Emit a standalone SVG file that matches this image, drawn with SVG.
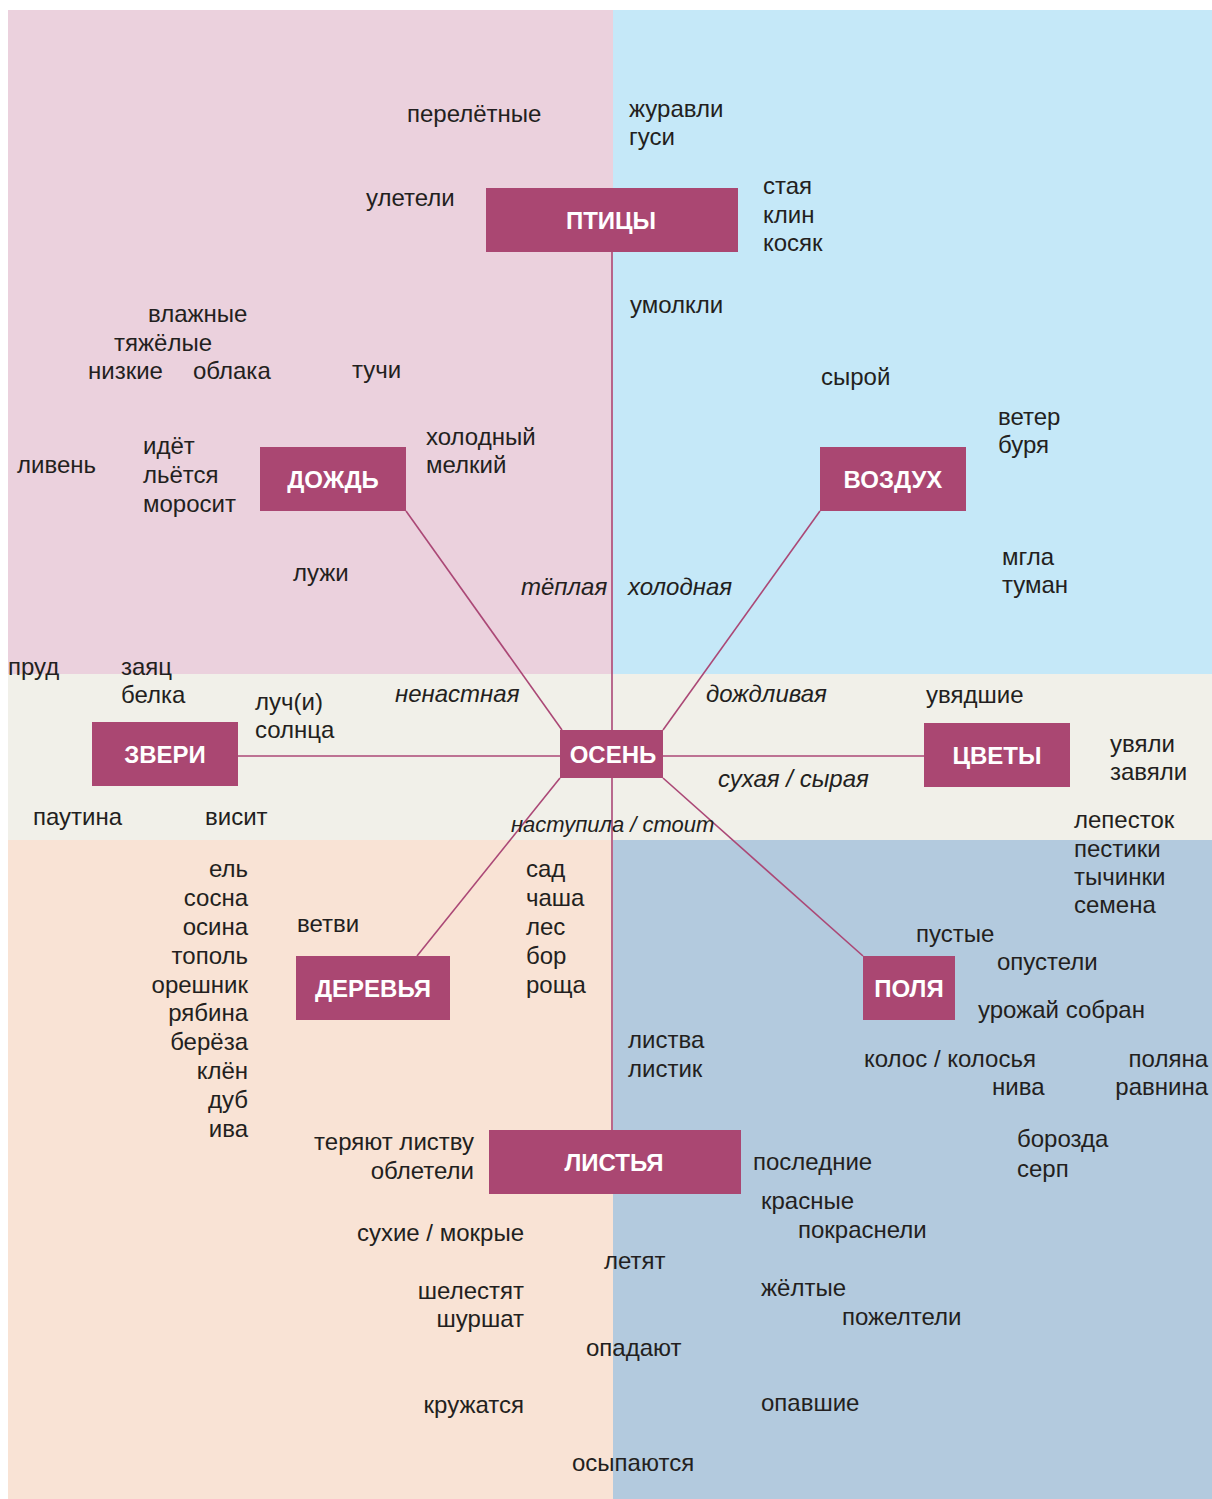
<svg xmlns="http://www.w3.org/2000/svg" width="1212" height="1499" viewBox="0 0 1212 1499">
<style>
.t{font-family:"Liberation Sans",Arial,sans-serif;font-size:24px;fill:#231f20}
.i{font-style:italic}
.r{text-anchor:end}
.box{fill:#aa4772}
.bt{font-family:"Liberation Sans",Arial,sans-serif;font-size:24px;font-weight:bold;fill:#ffffff;text-anchor:middle}
.c{stroke:#ab4876;stroke-width:1.6;fill:none}
</style>
<rect width="1212" height="1499" fill="#ffffff"/>
<g id="background">
<rect x="8" y="10" width="605" height="664" fill="#ebd1dd"/>
<rect x="613" y="10" width="599" height="664" fill="#c5e8f8"/>
<rect x="8" y="674" width="1204" height="166" fill="#f1f0e9"/>
<rect x="8" y="840" width="605" height="659" fill="#f9e3d5"/>
<rect x="613" y="840" width="599" height="659" fill="#b3cade"/>
</g>
<g id="connectors">
<line class="c" x1="612" y1="252" x2="612" y2="1130"/>
<line class="c" x1="406" y1="511" x2="562" y2="730"/>
<line class="c" x1="820" y1="511" x2="663" y2="730"/>
<line class="c" x1="238" y1="756" x2="560" y2="756"/>
<line class="c" x1="663" y1="756" x2="924" y2="756"/>
<line class="c" x1="560" y1="778" x2="417" y2="956"/>
<line class="c" x1="663" y1="778" x2="863" y2="956"/>
</g>
<g id="node-ptitsy"><rect class="box" x="486" y="188" width="252" height="64"/><text class="bt" x="611" y="229">ПТИЦЫ</text></g>
<g id="node-dozhd"><rect class="box" x="260" y="447" width="146" height="64"/><text class="bt" x="333" y="488">ДОЖДЬ</text></g>
<g id="node-vozdukh"><rect class="box" x="820" y="447" width="146" height="64"/><text class="bt" x="893" y="488">ВОЗДУХ</text></g>
<g id="node-zveri"><rect class="box" x="92" y="722" width="146" height="64"/><text class="bt" x="165" y="763">ЗВЕРИ</text></g>
<g id="node-osen"><rect class="box" x="560" y="730" width="103" height="48"/><text class="bt" x="613" y="763">ОСЕНЬ</text></g>
<g id="node-tsvety"><rect class="box" x="924" y="723" width="146" height="64"/><text class="bt" x="997" y="764">ЦВЕТЫ</text></g>
<g id="node-derevya"><rect class="box" x="296" y="956" width="154" height="64"/><text class="bt" x="373" y="997">ДЕРЕВЬЯ</text></g>
<g id="node-polya"><rect class="box" x="863" y="956" width="92" height="64"/><text class="bt" x="909" y="997">ПОЛЯ</text></g>
<g id="node-listya"><rect class="box" x="489" y="1130" width="252" height="64"/><text class="bt" x="614" y="1171">ЛИСТЬЯ</text></g>
<g id="labels">
<text class="t" x="407" y="122">перелётные</text>
<text class="t" x="366" y="206">улетели</text>
<text class="t" x="148" y="322">влажные</text>
<text class="t" x="114" y="351">тяжёлые</text>
<text class="t" x="88" y="379">низкие</text>
<text class="t" x="193" y="379">облака</text>
<text class="t" x="352" y="378">тучи</text>
<text class="t" x="17" y="473">ливень</text>
<text class="t" x="143" y="454">идёт</text>
<text class="t" x="143" y="483">льётся</text>
<text class="t" x="143" y="512">моросит</text>
<text class="t" x="426" y="445">холодный</text>
<text class="t" x="426" y="473">мелкий</text>
<text class="t" x="293" y="581">лужи</text>
<text class="t i" x="521" y="595">тёплая</text>
<text class="t" x="629" y="117">журавли</text>
<text class="t" x="629" y="145">гуси</text>
<text class="t" x="763" y="194">стая</text>
<text class="t" x="763" y="223">клин</text>
<text class="t" x="763" y="251">косяк</text>
<text class="t" x="630" y="313">умолкли</text>
<text class="t" x="821" y="385">сырой</text>
<text class="t" x="998" y="425">ветер</text>
<text class="t" x="998" y="453">буря</text>
<text class="t" x="1002" y="565">мгла</text>
<text class="t" x="1002" y="593">туман</text>
<text class="t i" x="628" y="595">холодная</text>
<text class="t" x="8" y="675">пруд</text>
<text class="t" x="121" y="675">заяц</text>
<text class="t" x="121" y="703">белка</text>
<text class="t" x="255" y="710">луч(и)</text>
<text class="t" x="255" y="738">солнца</text>
<text class="t i" x="395" y="702">ненастная</text>
<text class="t i" x="706" y="702">дождливая</text>
<text class="t" x="926" y="703">увядшие</text>
<text class="t" x="1110" y="752">увяли</text>
<text class="t" x="1110" y="780">завяли</text>
<text class="t i" x="718" y="787">сухая / сырая</text>
<text class="t" x="33" y="825">паутина</text>
<text class="t" x="205" y="825">висит</text>
<text class="t i" x="511" y="832" style="font-size:22px">наступила / стоит</text>
<text class="t" x="1074" y="828">лепесток</text>
<text class="t" x="1074" y="857">пестики</text>
<text class="t" x="1074" y="885">тычинки</text>
<text class="t" x="1074" y="913">семена</text>
<text class="t r" x="248" y="877">ель</text>
<text class="t r" x="248" y="906">сосна</text>
<text class="t r" x="248" y="935">осина</text>
<text class="t r" x="248" y="964">тополь</text>
<text class="t r" x="248" y="993">орешник</text>
<text class="t r" x="248" y="1021">рябина</text>
<text class="t r" x="248" y="1050">берёза</text>
<text class="t r" x="248" y="1079">клён</text>
<text class="t r" x="248" y="1108">дуб</text>
<text class="t r" x="248" y="1137">ива</text>
<text class="t" x="297" y="932">ветви</text>
<text class="t" x="526" y="877">сад</text>
<text class="t" x="526" y="906">чаша</text>
<text class="t" x="526" y="935">лес</text>
<text class="t" x="526" y="964">бор</text>
<text class="t" x="526" y="993">роща</text>
<text class="t r" x="474" y="1150">теряют листву</text>
<text class="t r" x="474" y="1179">облетели</text>
<text class="t r" x="524" y="1241">сухие / мокрые</text>
<text class="t r" x="524" y="1299">шелестят</text>
<text class="t r" x="524" y="1327">шуршат</text>
<text class="t r" x="524" y="1413">кружатся</text>
<text class="t" x="604" y="1269">летят</text>
<text class="t" x="586" y="1356">опадают</text>
<text class="t" x="572" y="1471">осыпаются</text>
<text class="t" x="628" y="1048">листва</text>
<text class="t" x="628" y="1077">листик</text>
<text class="t" x="916" y="942">пустые</text>
<text class="t" x="997" y="970">опустели</text>
<text class="t" x="978" y="1018">урожай собран</text>
<text class="t" x="864" y="1067">колос / колосья</text>
<text class="t" x="992" y="1095">нива</text>
<text class="t r" x="1208" y="1067">поляна</text>
<text class="t r" x="1208" y="1095">равнина</text>
<text class="t" x="1017" y="1147">борозда</text>
<text class="t" x="1017" y="1177">серп</text>
<text class="t" x="753" y="1170">последние</text>
<text class="t" x="761" y="1209">красные</text>
<text class="t" x="798" y="1238">покраснели</text>
<text class="t" x="761" y="1296">жёлтые</text>
<text class="t" x="842" y="1325">пожелтели</text>
<text class="t" x="761" y="1411">опавшие</text>
</g>
</svg>
